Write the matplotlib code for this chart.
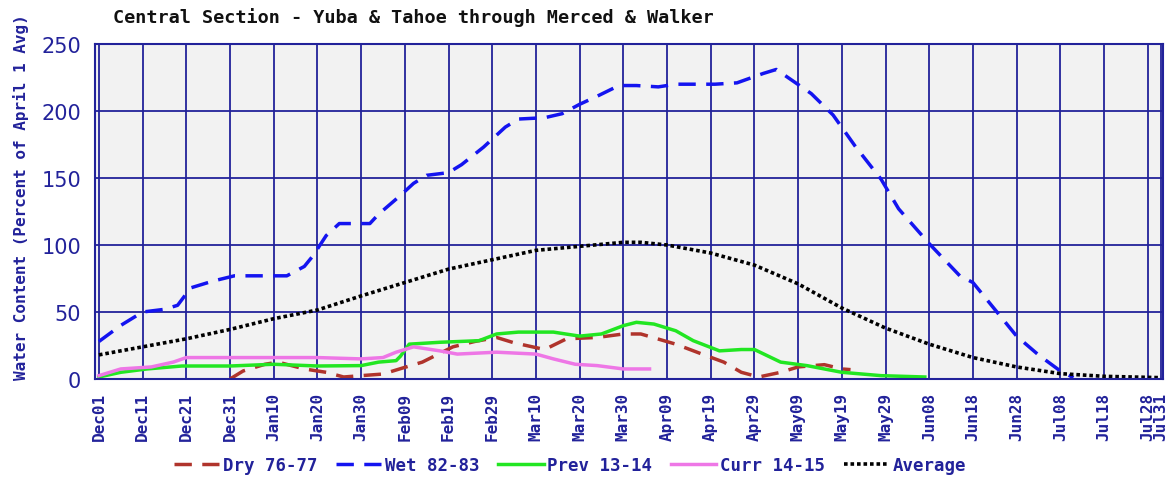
import matplotlib
matplotlib.use("Agg")
import matplotlib.pyplot as plt

# days counted from Dec 01 (leap year: Feb has 29 days)
tick_days = [0, 10, 20, 30, 40, 50, 60, 70, 80, 90, 100, 110, 120, 130, 140,
             150, 160, 170, 180, 190, 200, 210, 220, 230, 240, 243]
tick_labels = ["Dec01", "Dec11", "Dec21", "Dec31", "Jan10", "Jan20", "Jan30",
               "Feb09", "Feb19", "Feb29", "Mar10", "Mar20", "Mar30", "Apr09",
               "Apr19", "Apr29", "May09", "May19", "May29", "Jun08", "Jun18",
               "Jun28", "Jul08", "Jul18", "Jul28", "Jul31"]

dry_days = [30, 33, 38, 41, 47, 52, 56, 60, 65, 70, 74, 81, 86, 91, 95, 102, 107,
            114, 120, 124, 132, 138, 143, 147, 151, 156, 160, 166, 170, 172]
dry_vals = [0, 6, 11, 12.6, 7.5, 5, 1.5, 2.5, 3.7, 8.7, 12.6, 24, 28, 31, 27, 22, 30,
            31, 33.6, 33.6, 26, 18.6, 12.6, 5, 1.5, 5, 9, 10.7, 7.5, 7]

wet_days = [0, 5, 10, 15, 18, 21, 26, 31, 38, 43, 47, 49, 52, 55, 62, 64, 69, 72,
            75, 80, 83, 88, 93, 96, 102, 106, 110, 114, 119, 123, 128, 132, 137,
            141, 146, 152, 155, 159, 163, 168, 173, 179, 183, 190, 197, 200, 205,
            210, 215, 220, 223]
wet_vals = [28, 40, 50, 52, 55, 68, 73, 77, 77, 77, 84, 92, 107, 116, 116, 123, 137,
            146, 152, 154, 160, 173, 188, 194, 195, 198, 205, 211, 219, 219, 218,
            220, 220, 220, 221, 228, 231, 222, 213, 197, 174, 149, 127, 101, 77,
            72, 52, 32, 18, 6, 1]

prev_days = [0, 5, 11, 19, 30, 40, 50, 60, 64, 68, 69, 71, 78, 87, 91, 96, 104,
             110, 115, 120, 123, 127, 132, 136, 142, 147, 150, 156, 162, 170, 179, 189]
prev_vals = [1.5, 5, 7.5, 9.7, 9.7, 11, 9.7, 10, 12.6, 13.7, 17, 26, 27.4, 28.6,
             33.6, 35, 35, 32, 33.6, 39.8, 42.3, 41, 36, 28.6, 21, 22, 22, 12.6,
             10, 5, 2.5, 1.5]

curr_days = [0, 5, 12, 17, 20, 30, 40, 50, 60, 65, 68, 72, 78, 82, 91, 100, 104,
             109, 114, 120, 126]
curr_vals = [2.5, 7.5, 9, 12.6, 16, 16, 16, 16, 15, 16, 20, 24, 21, 18.6, 20, 18.6,
             15, 11, 10, 7.5, 7.5]

avg_days = [0, 10, 20, 30, 40, 50, 60, 70, 80, 90, 100, 110, 120, 124, 130, 140,
            150, 160, 170, 180, 190, 200, 210, 220, 230, 243]
avg_vals = [18, 24, 30, 37, 45, 51.5, 62, 72, 82, 89, 96, 99, 102, 102, 100, 94,
            85, 71, 53, 38, 26, 16, 9, 4, 2, 1]

navy = "#22229a"
mono = "DejaVu Sans Mono"

fig = plt.figure(figsize=(11.71, 4.81), dpi=100)
ax = fig.add_axes([95 / 1171, 1 - 380 / 481, 1068 / 1171, 335 / 481])
ax.set_facecolor("#f2f2f2")

ax.plot(dry_days, dry_vals, color="#b0342c", lw=2.5, ls=(0, (5, 3)), label="Dry 76-77")
ax.plot(wet_days, wet_vals, color="#1414f0", lw=2.5, ls=(0, (5, 3)), label="Wet 82-83")
ax.plot(prev_days, prev_vals, color="#22e622", lw=2.5, label="Prev 13-14")
ax.plot(curr_days, curr_vals, color="#ee77e6", lw=2.5, label="Curr 14-15")
ax.plot(avg_days, avg_vals, color="black", lw=2.6, ls=(0, (1, 0.8)), label="Average")

ax.set_xlim(-0.9, 243.5)
ax.set_ylim(0, 250)
ax.set_xticks(tick_days)
ax.set_xticklabels(tick_labels, rotation=90, fontsize=11.5, fontweight="bold",
                   family=mono, color=navy)
ax.set_yticks([0, 50, 100, 150, 200, 250])
ax.tick_params(axis="y", labelsize=15, labelcolor=navy, length=0, pad=10)
ax.tick_params(axis="x", length=0, pad=9)
ax.grid(True, color=navy, lw=1.3)
ax.set_axisbelow(True)
for s in ax.spines.values():
    s.set_color(navy)
    s.set_linewidth(1.5)

fig.text(21 / 1171, 1 - 197 / 481, "Water Content (Percent of April 1 Avg)",
         rotation=90, ha="center", va="center", fontsize=11.5, fontweight="bold",
         family=mono, color=navy)
fig.text(113 / 1171, 1 - 18 / 481, "Central Section - Yuba & Tahoe through Merced & Walker",
         ha="left", va="center", fontsize=13.3, fontweight="bold", family=mono,
         color="#111111")

leg = fig.legend(loc="center", bbox_to_anchor=(570 / 1171, 1 - 466 / 481), ncol=5,
                 frameon=False, handlelength=2.6, handletextpad=0.2,
                 columnspacing=1.1, prop={"family": mono, "weight": "bold", "size": 12.5})
for t in leg.get_texts():
    t.set_color(navy)

fig.savefig("out.png", dpi=100)
